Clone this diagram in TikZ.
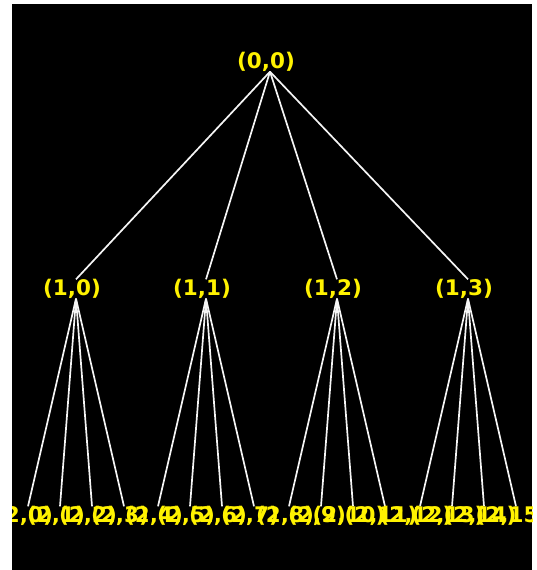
\documentclass[tikz,border=0pt]{standalone}
\usepackage{fontspec}
\newfontfamily\lblfont{DejaVu Sans}
\pgfdeclarelayer{back}
\pgfdeclarelayer{edges}
\pgfsetlayers{back,edges,main}
\begin{document}
\begin{tikzpicture}[x=1pt,y=-1pt,
  lbl/.style={text=yellow, font=\lblfont\bfseries\fontsize{21.5}{24}\selectfont, inner sep=0pt, outer sep=0pt},
  edge/.style={draw=white!92!gray, line width=1.7pt}]
\useasboundingbox (0,0) rectangle (536,570);
\begin{pgfonlayer}{back}
  \fill[white] (0,0) rectangle (536,570);
  \fill[black] (12,4) rectangle (532,570);
\end{pgfonlayer}
\begin{scope}
  \clip (12,4) rectangle (532,570);
  \node[lbl] (r) at (266,62) {(0,0)};
  \foreach \j/\g in {0/76,1/206,2/337,3/468} {
    \node[lbl] (a\j) at (\g-4,289) {(1,\j)};
    \foreach \k in {0,...,3} {
      \pgfmathtruncatemacro\n{4*\j+\k}
      \node[lbl] (b\n) at ({\g+32*(\k-1.5)-4},516) {(2,\n)};
    }
  }
\end{scope}
\begin{pgfonlayer}{edges}
  \foreach \j in {0,...,3} {
    \draw[edge] ([xshift=4pt]r.south) -- ([xshift=4pt]a\j.north);
    \foreach \k in {0,...,3} {
      \pgfmathtruncatemacro\n{4*\j+\k}
      \draw[edge] ([xshift=4pt]a\j.south) -- ([xshift=4pt]b\n.north);
    }
  }
\end{pgfonlayer}
\end{tikzpicture}
\end{document}
